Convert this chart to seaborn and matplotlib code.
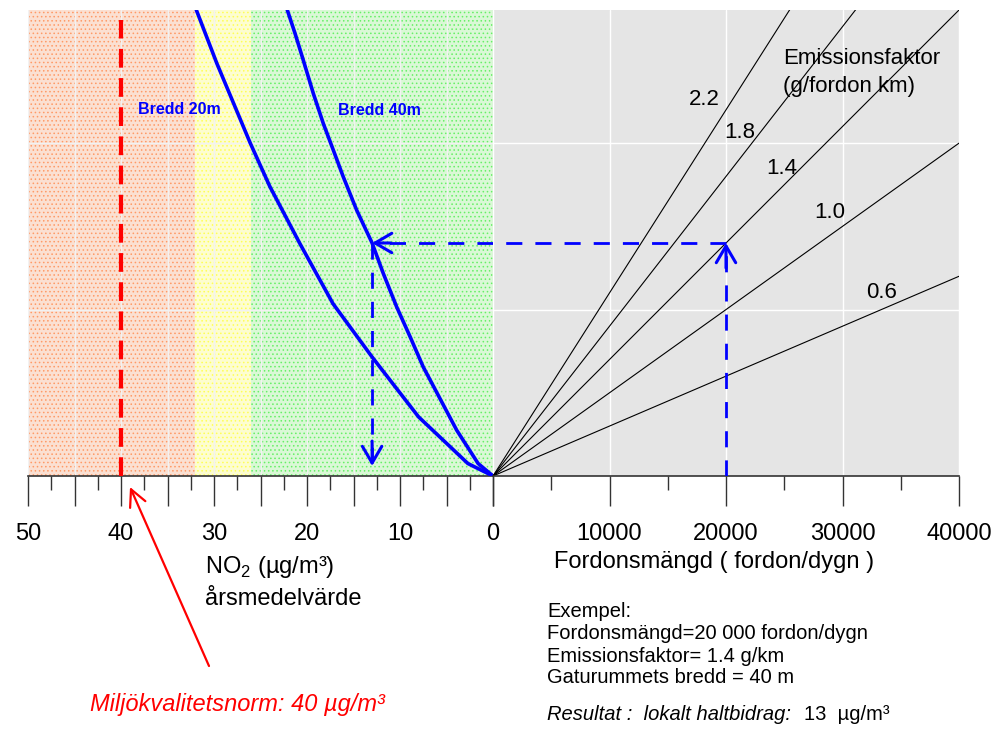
import matplotlib
matplotlib.use("Agg")
import matplotlib.pyplot as plt
from matplotlib.ticker import MultipleLocator, FuncFormatter
import seaborn as sns
import pandas as pd

# NO2 contribution curves (x: NO2 ug/m3, y: emission in kg/km/dygn)
bredd20_no2 = [0, 2.7, 8.0, 13.0, 17.2, 20.8, 24.0, 26.1, 27.9, 29.7, 31.9]
bredd20_emis = [0, 1.5, 7.1, 14.3, 20.7, 28.0, 34.8, 40.0, 44.8, 49.6, 56.0]
bredd40_no2 = [0, 1.6, 3.9, 5.7, 7.5, 8.9, 10.35, 11.8, 13.0, 14.66, 16.1, 17.17,
               18.25, 19.32, 20.4, 21.29, 22.12]
bredd40_emis = [0, 1.5, 5.5, 9.3, 13.1, 16.7, 20.3, 24.35, 28.0, 31.95, 35.95, 39.16,
                42.37, 45.97, 49.97, 53.2, 56.0]

# emission factor lines (g/fordon km) over traffic volume
ef_values = [0.6, 1.0, 1.4, 1.8, 2.2]
ef_labels = ["0.6", "1.0", "1.4", "1.8", "2.2"]
traffic_ends = [0, 40000]

# assessment zones on the NO2 axis
zone_bounds = [(50, 32), (32, 26), (26, 0)]
zone_fill = ["#fbe0d2", "#fdfdd0", "#daf8d6"]
zone_dots = ["#ff9a66", "#ffff55", "#66f066"]

# worked example
ex_traffic = 20000
ex_ef = 1.4
ex_no2 = 13
ex_emis = ex_traffic * ex_ef / 1000
norm_no2 = 40

sns.set_style("white")
plt.rcParams["font.family"] = ["Liberation Sans", "DejaVu Sans"]
plt.rcParams["mathtext.fontset"] = "custom"
plt.rcParams["mathtext.rm"] = "Liberation Sans"
plt.rcParams["hatch.linewidth"] = 0.6
plt.rcParams["text.color"] = "black"
plt.rcParams["xtick.labelcolor"] = "black"

fig = plt.figure(figsize=(9.96, 7.36), dpi=100)
ax_l = fig.add_axes([28 / 996, 260 / 736, 465 / 996, 466 / 736])
ax_r = fig.add_axes([493 / 996, 260 / 736, 466 / 996, 466 / 736])

YMAX = 56

# ---- left panel: NO2
for (a, b), fc, dc in zip(zone_bounds, zone_fill, zone_dots):
    ax_l.axvspan(a, b, facecolor=fc, edgecolor=dc, hatch="....", lw=0, zorder=0.2)

curves = pd.concat([
    pd.DataFrame({"no2": bredd20_no2, "emis": bredd20_emis, "bredd": "20m"}),
    pd.DataFrame({"no2": bredd40_no2, "emis": bredd40_emis, "bredd": "40m"}),
])
sns.lineplot(data=curves, x="no2", y="emis", hue="bredd", palette=["#0000ff", "#0000ff"],
             estimator=None, sort=False, lw=2.6, legend=False, ax=ax_l, zorder=3)

ax_l.plot([norm_no2, norm_no2], [0, 54.8], color="#ff0000", lw=3.0,
          dashes=(4.5, 2.5), zorder=3)

ax_l.text(33.7, 44.1, "Bredd 20m", color="#0000ff", fontsize=11.5, fontweight="bold",
          ha="center", va="center")
ax_l.text(12.2, 43.9, "Bredd 40m", color="#0000ff", fontsize=11.5, fontweight="bold",
          ha="center", va="center")

ax_l.set_xlim(50, 0)
ax_l.set_ylim(0, YMAX)
ax_l.xaxis.set_major_locator(MultipleLocator(5))
ax_l.xaxis.set_minor_locator(MultipleLocator(2.5))
ax_l.xaxis.set_major_formatter(FuncFormatter(lambda v, p: f"{int(round(v))}" if round(v) % 10 == 0 else ""))
ax_l.set_yticks([20, 40])
ax_l.grid(True, axis="both", which="major", color="#f2f2f2", lw=1)
ax_l.set_axisbelow(True)

# ---- right panel: traffic
ax_r.set_facecolor("#e5e5e5")
ef_rows = []
for ef in ef_values:
    for n in traffic_ends:
        ef_rows.append({"ef": ef, "n": n, "emis": ef * n / 1000})
ef_df = pd.DataFrame(ef_rows)
sns.lineplot(data=ef_df, x="n", y="emis", hue="ef", palette=["black"] * len(ef_values),
             estimator=None, lw=0.8, legend=False, ax=ax_r, zorder=2)

ef_label_pos = [(33391, 22.0), (28927, 31.7), (24807, 37.0), (21202, 41.3), (18112, 45.2)]
for lab, (xp, yp) in zip(ef_labels, ef_label_pos):
    ax_r.text(xp, yp, lab, fontsize=16, ha="center", va="center")
ax_r.text(24893, 49.5, "Emissionsfaktor", fontsize=16, ha="left", va="baseline")
ax_r.text(24893, 46.2, "(g/fordon km)", fontsize=16, ha="left", va="baseline")

ax_r.set_xlim(0, 40000)
ax_r.set_ylim(0, YMAX)
ax_r.xaxis.set_major_locator(MultipleLocator(10000))
ax_r.xaxis.set_minor_locator(MultipleLocator(5000))
ax_r.xaxis.set_major_formatter(FuncFormatter(lambda v, p: "" if v == 0 else f"{int(v)}"))
ax_r.set_yticks([20, 40])
ax_r.grid(True, axis="both", which="major", color="white", lw=1)
ax_r.set_axisbelow(True)

# ---- example path (blue dashed arrows)
blue = "#0000ff"
dash = (5.8, 4.7)
blw = 2.0
ax_r.plot([ex_traffic, ex_traffic], [0, ex_emis - 0.6], color=blue, lw=blw, dashes=dash, zorder=4)
ax_r.plot([ex_traffic, 0], [ex_emis, ex_emis], color=blue, lw=blw, dashes=dash, zorder=4)
ax_l.plot([0, ex_no2 - 0.3], [ex_emis, ex_emis], color=blue, lw=blw, dashes=dash, zorder=4)
ax_l.plot([ex_no2, ex_no2], [ex_emis, 1.8], color=blue, lw=blw, dashes=dash, zorder=4)
head = dict(arrowstyle="->,head_length=0.6,head_width=0.35", color=blue, lw=2.2,
            mutation_scale=20, shrinkA=0, shrinkB=0)
ax_r.annotate("", xy=(ex_traffic, ex_emis), xytext=(ex_traffic, ex_emis - 3), arrowprops=head, zorder=5)
ax_l.annotate("", xy=(ex_no2, ex_emis), xytext=(ex_no2 - 2, ex_emis), arrowprops=head, zorder=5)
ax_l.annotate("", xy=(ex_no2, 1.2), xytext=(ex_no2, 4.2), arrowprops=head, zorder=5)

# ---- axis styling
for ax in (ax_l, ax_r):
    for s in ("left", "right", "top"):
        ax.spines[s].set_visible(False)
    ax.spines["bottom"].set_color("#333333")
    ax.spines["bottom"].set_linewidth(1.2)
    ax.tick_params(axis="x", which="major", direction="out", length=21.6, width=1,
                   color="#333333", labelsize=17, pad=12, bottom=True)
    ax.tick_params(axis="x", which="minor", direction="out", length=10, width=1,
                   color="#333333", bottom=True)
    ax.tick_params(axis="y", length=0, labelleft=False)
    ax.set_xlabel("")
    ax.set_ylabel("")

# ---- labels outside axes
fig.text(205 / 996, 0.2215, "NO$_2$ (µg/m³)", fontsize=17, ha="left", va="baseline")
fig.text(205 / 996, 0.178, "årsmedelvärde", fontsize=17, ha="left", va="baseline")
fig.text(0.717, 0.2283, "Fordonsmängd ( fordon/dygn )", fontsize=17, ha="center", va="baseline")

ex_lines = ["Exempel:", "Fordonsmängd=20 000 fordon/dygn", "Emissionsfaktor= 1.4 g/km",
            "Gaturummets bredd = 40 m"]
ex_y = [0.1617, 0.1318, 0.1005, 0.072]
for t, yy in zip(ex_lines, ex_y):
    fig.text(547 / 996, yy, t, fontsize=14.5, ha="left", va="baseline")
fig.text(547 / 996, 0.0217, "Resultat :  lokalt haltbidrag:", fontsize=14.5, style="italic",
         ha="left", va="baseline")
fig.text(804 / 996, 0.0217, "13  µg/m³", fontsize=14.5, ha="left", va="baseline")

fig.text(90 / 996, 0.034, "Miljökvalitetsnorm: 40 µg/m³", fontsize=17, style="italic",
         color="#ff0000", ha="left", va="baseline")
ax_l.annotate("", xy=(130 / 996, 249 / 736), xycoords="figure fraction",
              xytext=(209 / 996, 70 / 736), textcoords="figure fraction",
              arrowprops=dict(arrowstyle="->,head_length=0.6,head_width=0.3", color="#ff0000",
                              lw=1.6, mutation_scale=20, shrinkA=0, shrinkB=0))

fig.savefig("out.png", dpi=100)
